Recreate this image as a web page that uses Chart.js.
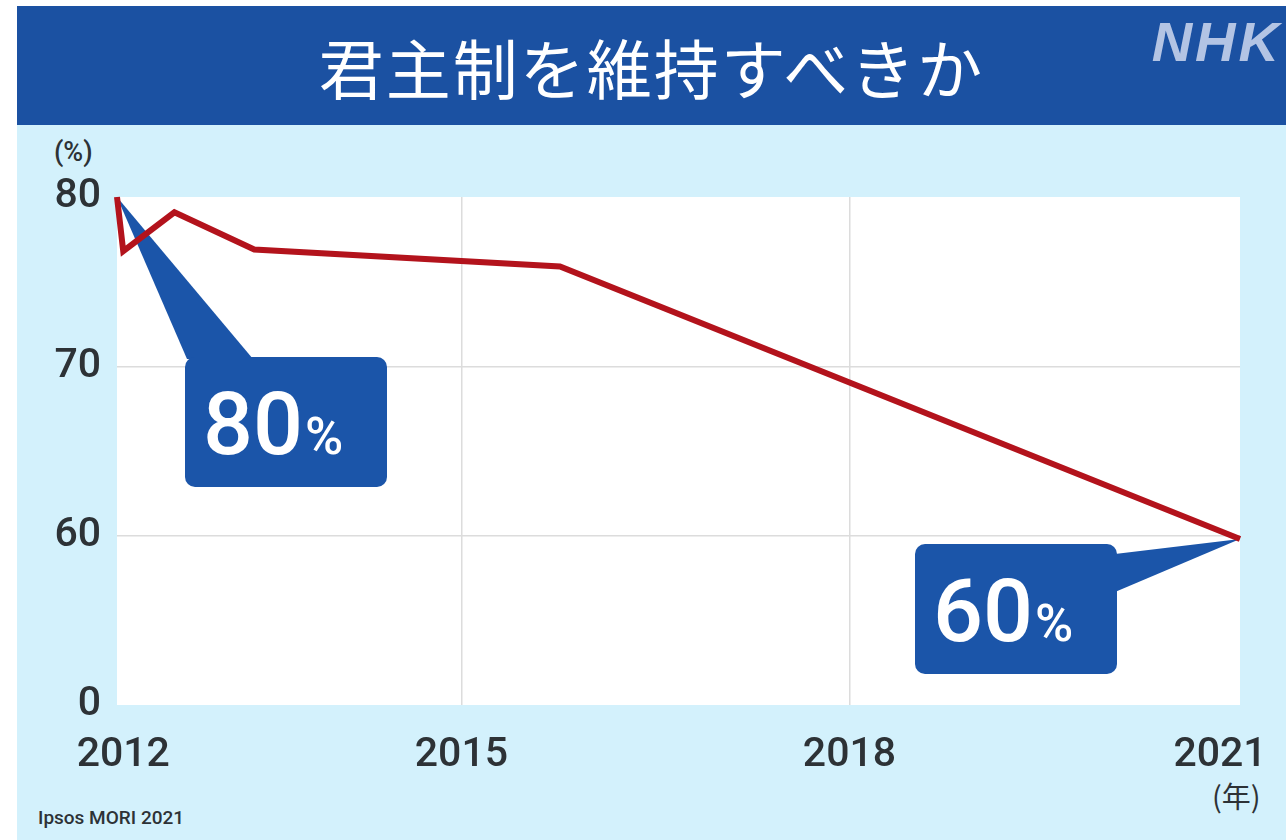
<!DOCTYPE html>
<html>
<head>
<meta charset="utf-8">
<script src="https://cdn.jsdelivr.net/npm/chart.js@4.4.1/dist/chart.umd.min.js"></script>
<style>
  html, body { margin: 0; padding: 0; background: #fff; }
  body { width: 1286px; height: 840px; position: relative; overflow: hidden; font-family: Roboto, "Noto Sans", sans-serif; }
  #header { position: absolute; left: 17px; top: 6px; width: 1269px; height: 119px; background: #1b51a2; }
  #title { position: absolute; left: 0; width: 1269px; top: 22px; text-align: center; color: #fff;
    font-family: "Noto Sans CJK JP", sans-serif; font-size: 65px; line-height: 76px; letter-spacing: 2px; }
  #logo { position: absolute; right: 4px; top: 3px; color: #b3c4e4; font-family: "Liberation Sans", Arial, sans-serif;
    font-weight: bold; font-style: italic; font-size: 56px; letter-spacing: 3px; }
  #panel { position: absolute; left: 17px; top: 125px; width: 1269px; height: 715px; background: #d3f1fc; }
  .note { position: absolute; color: #2d3236; }
  #unitY { left: 54px; top: 136px; font-size: 27px; font-weight: 500; }
  #unitX { left: 1212px; top: 774px; font-size: 29px; font-family: "Noto Sans CJK JP", sans-serif; }
  #source { left: 38px; top: 806px; font-size: 19px; font-weight: 500; }
  #wrap { position: absolute; left: 0; top: 0; width: 1286px; height: 840px; }
</style>
</head>
<body>
<div id="header">
  <div id="title">君主制を維持すべきか</div>
  <div id="logo">NHK</div>
</div>
<div id="panel"></div>
<div class="note" id="unitY">(%)</div>
<div class="note" id="unitX">(年)</div>
<div class="note" id="source">Ipsos MORI 2021</div>
<div id="wrap"><canvas id="chart" width="1286" height="840"></canvas></div>
<script>
// Survey points (x in years, y in %)
const years = [2012, 2012.05, 2012.46, 2013.1, 2015.55, 2021];
const support = [80, 76.8, 79.1, 76.9, 75.9, 59.8];

// Axis ticks (the artwork places the year labels and gridlines unevenly;
// the end ticks carry no gridline, only their label)
const xTickPos = [2012.05, 2014.76, 2017.87, 2020.84];
const xTickLabels = ['2012', '2015', '2018', '2021'];
// Broken y axis: bottom tick stands for 0
const yTickPos = [50, 60, 70, 80];
const yTickLabels = ['0', '60', '70', '80'];

// Callouts: which point, and what text
const calloutIndex = [0, 5];
const calloutText = ['80', '60'];

const BLUE = '#1b55a9';
const RED = '#b3131c';
const INK = '#2d3236';

const roundRect = (ctx, x, y, w, h, r) => {
  ctx.beginPath();
  ctx.moveTo(x + r, y);
  ctx.arcTo(x + w, y, x + w, y + h, r);
  ctx.arcTo(x + w, y + h, x, y + h, r);
  ctx.arcTo(x, y + h, x, y, r);
  ctx.arcTo(x, y, x + w, y, r);
  ctx.closePath();
};

const ctx = document.getElementById('chart');
const chart = new Chart(ctx, {
  type: 'line',
  data: {
    datasets: [{
      label: '君主制を維持すべき',
      data: years.map((x, i) => ({ x, y: support[i] })),
      borderColor: RED,
      borderWidth: 6,
      tension: 0,
      pointRadius: 0,
      fill: false,
      clip: false,
    }],
  },
  options: {
    responsive: false,
    animation: false,
    layout: {
      padding: { top: 197, right: 0, left: 0, bottom: 0 },
    },
    scales: {
      x: {
        type: 'linear',
        min: 2012,
        max: 2021,
        afterBuildTicks: (scale) => { scale.ticks = xTickPos.map((v) => ({ value: v })); },
        afterFit: (scale) => {
          scale.height = 135;
          scale.paddingLeft = 0;
          scale.paddingRight = 46;
        },
        grid: {
          drawTicks: false,
          color: (c) => (c.index === 0 || c.index === xTickPos.length - 1 ? 'rgba(0,0,0,0)' : '#dcdcdc'),
          lineWidth: 1.5,
        },
        border: { display: false },
        ticks: {
          autoSkip: false,
          maxRotation: 0,
          padding: 26,
          color: INK,
          font: { family: 'Roboto', size: 41, weight: 500 },
          callback: (v, i) => xTickLabels[i],
        },
      },
      y: {
        type: 'linear',
        min: 50,
        max: 80,
        afterBuildTicks: (scale) => { scale.ticks = yTickPos.map((v) => ({ value: v })); },
        afterFit: (scale) => { scale.width = 117; },
        grid: {
          drawTicks: false,
          color: (c) => (c.index === 0 || c.index === yTickPos.length - 1 ? 'rgba(0,0,0,0)' : '#dcdcdc'),
          lineWidth: 1.5,
        },
        border: { display: false },
        ticks: {
          padding: 16,
          color: INK,
          font: { family: 'Roboto', size: 41, weight: 500 },
          callback: (v, i) => yTickLabels[i],
        },
      },
    },
    plugins: {
      legend: { display: false },
      tooltip: { enabled: false },
    },
  },
  plugins: [{
    id: 'plotBg',
    beforeDraw(c) {
      const { ctx: g, chartArea: a } = c;
      g.save();
      g.fillStyle = '#ffffff';
      g.fillRect(a.left, a.top, a.right - a.left, a.bottom - a.top);
      g.restore();
    },
  }, {
    id: 'callouts',
    beforeDatasetsDraw(c) {
      const g = c.ctx;
      const meta = c.getDatasetMeta(0);
      calloutIndex.forEach((idx, k) => {
        const p = meta.data[idx];
        const w = 202;
        const h = 130;
        let bx; let by; let wedge;
        if (k === 0) {
          // box below-right of the first point, wedge from its top edge
          bx = p.x + 68; by = p.y + 160;
          wedge = [[bx + 2, by + 2], [bx + 68, by + 2]];
        } else {
          // box below-left of the last point, wedge from its right edge
          bx = p.x - 325; by = p.y + 5;
          wedge = [[bx + w - 2, by + 10], [bx + w - 2, by + 48]];
        }
        g.save();
        g.fillStyle = BLUE;
        g.beginPath();
        g.moveTo(p.x, p.y);
        g.lineTo(wedge[0][0], wedge[0][1]);
        g.lineTo(wedge[1][0], wedge[1][1]);
        g.closePath();
        g.fill();
        roundRect(g, bx, by, w, h, 10);
        g.fill();
        g.fillStyle = '#ffffff';
        g.textBaseline = 'alphabetic';
        g.textAlign = 'left';
        g.font = '500 88px Roboto, sans-serif';
        const tw = g.measureText(calloutText[k]).width;
        g.fillText(calloutText[k], bx + 18, by + 97);
        g.font = '500 52px Roboto, sans-serif';
        g.fillText('%', bx + 18 + tw + 2, by + 97);
        g.restore();
      });
    },
  }],
});
</script>
</body>
</html>
